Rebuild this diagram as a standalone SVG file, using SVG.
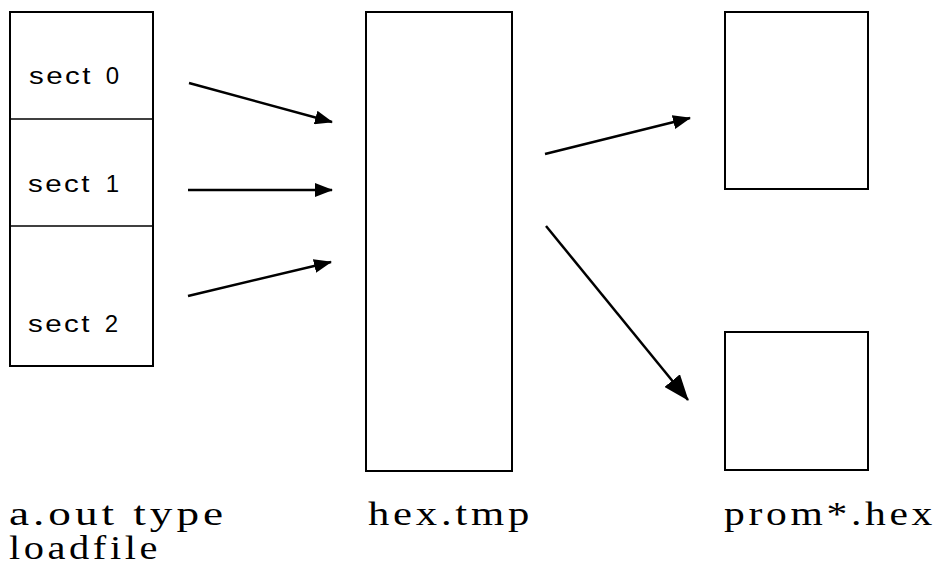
<svg xmlns="http://www.w3.org/2000/svg" width="937" height="567" viewBox="0 0 937 567">
<style>
.box{fill:#fff;stroke:#000;stroke-width:2}
.div{stroke:#000;stroke-width:1.5}
.sect{font-family:"Liberation Sans",Arial,sans-serif;font-size:24px;fill:#000;letter-spacing:2px}
.lbl{font-family:"Liberation Serif","Times New Roman",serif;font-size:34px;fill:#000;letter-spacing:3px}
.arr{stroke:#000;stroke-width:2.5;fill:none}
</style>
<defs>
<marker id="ah" viewBox="0 0 18 14" refX="17" refY="7" markerWidth="18" markerHeight="14" markerUnits="userSpaceOnUse" orient="auto">
<path d="M0,0 L18,7 L0,14 Z" fill="#000"/>
</marker>
<marker id="ahb" viewBox="0 0 26 20" refX="25" refY="10" markerWidth="26" markerHeight="20" markerUnits="userSpaceOnUse" orient="auto">
<path d="M0,0 L26,10 L0,20 Z" fill="#000"/>
</marker>
</defs>
<rect width="937" height="567" fill="#fff"/>
<g id="loadfile">
<rect class="box" x="10" y="12" width="143" height="354"/>
<line class="div" x1="10" y1="119" x2="153" y2="119"/>
<line class="div" x1="10" y1="226" x2="153" y2="226"/>
<text class="sect" y="84"><tspan x="29" textLength="64" lengthAdjust="spacingAndGlyphs">sect</tspan><tspan x="97"> 0</tspan></text>
<text class="sect" y="192"><tspan x="28" textLength="64" lengthAdjust="spacingAndGlyphs">sect</tspan><tspan x="97"> 1</tspan></text>
<text class="sect" y="332"><tspan x="28" textLength="64" lengthAdjust="spacingAndGlyphs">sect</tspan><tspan x="96"> 2</tspan></text>
<text class="lbl"><tspan x="9" y="525" textLength="218" lengthAdjust="spacingAndGlyphs">a.out type</tspan><tspan x="9" y="559" textLength="152" lengthAdjust="spacingAndGlyphs">loadfile</tspan></text>
</g>
<g id="hextmp">
<rect class="box" x="366" y="12" width="146" height="459"/>
<text class="lbl" x="368" y="525" textLength="165" lengthAdjust="spacingAndGlyphs">hex.tmp</text>
</g>
<g id="prom1">
<rect class="box" x="725" y="12" width="143" height="177"/>
</g>
<g id="prom2">
<rect class="box" x="725" y="332" width="143" height="138"/>
</g>
<g id="promlabel">
<text class="lbl" x="724" y="525" textLength="212" lengthAdjust="spacingAndGlyphs">prom*.hex</text>
</g>
<g id="connectors">
<line class="arr" x1="189" y1="83" x2="332" y2="122" marker-end="url(#ah)"/>
<line class="arr" x1="188" y1="190" x2="332" y2="190" marker-end="url(#ah)"/>
<line class="arr" x1="188" y1="296" x2="331" y2="262" marker-end="url(#ah)"/>
<line class="arr" x1="545" y1="154" x2="690" y2="118" marker-end="url(#ah)"/>
<line class="arr" x1="546" y1="226" x2="688" y2="400" marker-end="url(#ahb)"/>
</g>
</svg>
